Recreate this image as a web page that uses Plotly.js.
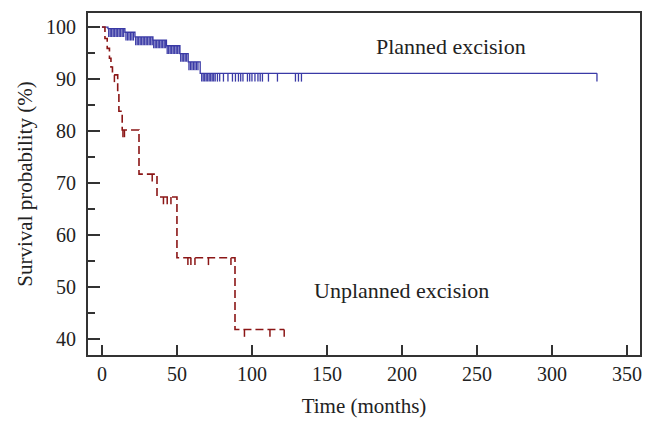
<!DOCTYPE html>
<html>
<head>
<meta charset="utf-8">
<script src="https://cdn.plot.ly/plotly-3.0.1.min.js"></script>
<style>
  html, body { margin: 0; padding: 0; background: #fff; }
  #chart { width: 656px; height: 430px; }
</style>
</head>
<body>
<div id="chart"></div>
<script>
// Kaplan-Meier steps (months, survival %)
const plannedTime = [0, 4, 15.3, 22, 34, 43, 52, 57.5, 65.5, 330];
const plannedSurv = [100, 99.7, 99.0, 98.1, 97.5, 96.4, 94.9, 93.3, 91.1, 91.1];
const plannedCensor = [
    4.5, 5.5, 6.5, 7.5, 8.5, 9.5, 10.5, 11.5, 12.5, 13.5, 14.5,
    16, 17, 18, 19, 20, 21,
    22.5, 23.5, 24.5, 25.5, 26.5, 27.5, 28.5, 29.5, 30.5, 31.5, 32.5, 33.5,
    34.5, 35.5, 36.5, 37.5, 38.5, 39.5, 40.5, 41.5, 42.5,
    43.5, 44.5, 45.5, 46.5, 47.5, 48.5, 49.5, 50.5, 51.5,
    52.5, 53.5, 54.5, 55.5, 56.5,
    58, 59, 60, 61, 62, 63, 64,
    66.5, 67.5, 68.5, 69.5, 70.5, 71.5, 72.5, 73.5, 74.5, 75.5, 77, 78.5,
    81, 84, 87, 89, 91, 92.5, 94, 97, 98.5, 100, 102, 104, 105.5, 107,
    111, 117, 129, 131, 133, 330
];

const unplannedTime = [0, 2, 3.5, 5, 6, 7, 10.5, 11.3, 13.5, 24.7, 36.7, 50, 88.7, 121.5];
const unplannedSurv = [100, 97.8, 95.9, 94.0, 92.3, 90.8, 87.3, 83.8, 80.2, 71.7, 67.3, 55.6, 41.8, 41.8];
const unplannedCensor = [8.3, 14, 15, 33.5, 41, 43.5, 46, 57.3, 59.3, 62, 71, 86, 95, 112, 121.5];

const BLUE = '#3a3aa6';
const RED = '#8b1616';
const FONT = 'Liberation Serif, Times New Roman, serif';

function survAt(times, surv, t) {
    let s = surv[0];
    for (let i = 0; i < times.length; i++) {
        if (times[i] <= t) s = surv[i];
    }
    return s;
}

// short vertical marks hanging below the curve for censored cases
function censorTrace(times, surv, censor, color, len, width) {
    const x = [];
    const y = [];
    censor.forEach(t => {
        const s = survAt(times, surv, t);
        x.push(t, t, null);
        y.push(s, s - len, null);
    });
    return {
        x: x, y: y, type: 'scatter', mode: 'lines',
        line: { color: color, width: width },
        hoverinfo: 'skip', showlegend: false
    };
}

const traces = [
    {
        x: plannedTime, y: plannedSurv, type: 'scatter', mode: 'lines',
        line: { color: BLUE, width: 1.3, shape: 'hv' },
        name: 'Planned excision', showlegend: false
    },
    censorTrace(plannedTime, plannedSurv, plannedCensor, BLUE, 1.6, 1.3),
    {
        x: unplannedTime, y: unplannedSurv, type: 'scatter', mode: 'lines',
        line: { color: RED, width: 1.6, shape: 'hv', dash: '8px,4px' },
        name: 'Unplanned excision', showlegend: false
    },
    censorTrace(unplannedTime, unplannedSurv, unplannedCensor, RED, 1.4, 1.5)
];

const layout = {
    width: 656,
    height: 430,
    margin: { l: 88, r: 16, t: 13, b: 75 },
    paper_bgcolor: '#ffffff',
    plot_bgcolor: '#ffffff',
    font: { family: FONT, size: 20, color: '#222' },
    showlegend: false,
    xaxis: {
        range: [-9.3, 358.7],
        tick0: 0, dtick: 50,
        ticks: 'inside', ticklen: 10, tickwidth: 2, tickcolor: '#333',
        showline: true, linecolor: '#333', linewidth: 2, mirror: true,
        showgrid: false, zeroline: false,
        tickfont: { family: FONT, size: 20, color: '#222' },
        title: { text: 'Time (months)', font: { family: FONT, size: 21, color: '#222' }, standoff: 14 }
    },
    yaxis: {
        range: [36.9, 102.7],
        tick0: 0, dtick: 10,
        ticks: 'inside', ticklen: 12, tickwidth: 2, tickcolor: '#333',
        minor: { dtick: 5, ticks: 'inside', ticklen: 7, tickwidth: 2, tickcolor: '#333', showgrid: false },
        showline: true, linecolor: '#333', linewidth: 2, mirror: true,
        showgrid: false, zeroline: false,
        ticklabelstandoff: 6,
        tickfont: { family: FONT, size: 20, color: '#222' },
        title: { text: 'Survival probability (%)', font: { family: FONT, size: 21, color: '#222' }, standoff: 8 }
    },
    annotations: [
        {
            x: 233, y: 96.2, xref: 'x', yref: 'y', text: 'Planned excision',
            showarrow: false, font: { family: FONT, size: 22, color: '#222' }
        },
        {
            x: 199.6, y: 49.4, xref: 'x', yref: 'y', text: 'Unplanned excision',
            showarrow: false, font: { family: FONT, size: 22, color: '#222' }
        }
    ]
};

Plotly.newPlot('chart', traces, layout, { displayModeBar: false, staticPlot: true });
</script>
</body>
</html>
